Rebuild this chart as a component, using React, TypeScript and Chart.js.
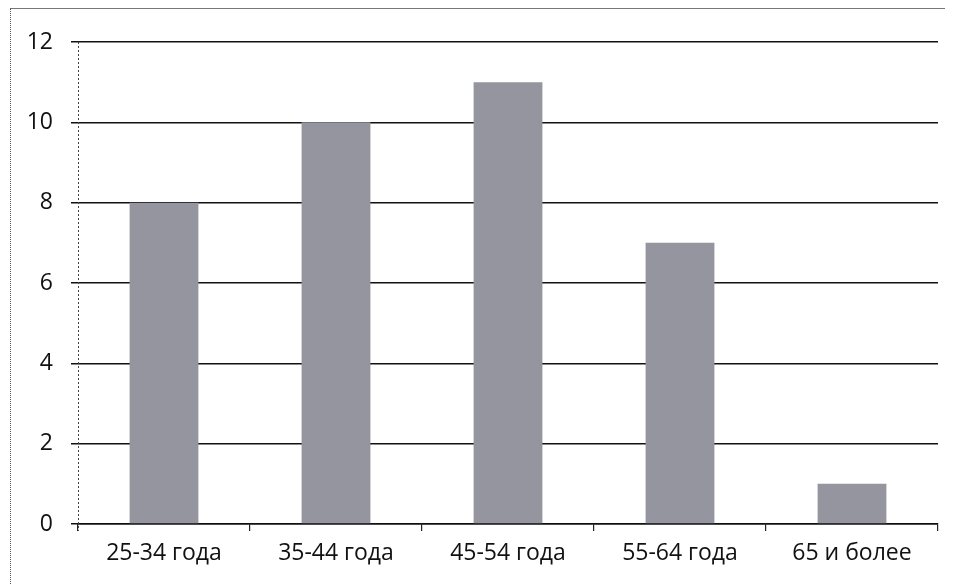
import React, { useEffect, useRef } from "react";
import { Chart, registerables } from "chart.js";

Chart.register(...registerables);

const categories = ["25-34 года", "35-44 года", "45-54 года", "55-64 года", "65 и более"];
const values = [8, 10, 11, 7, 1];
const yTicks = [0, 2, 4, 6, 8, 10, 12];

const dottedAxis = {
  id: "dottedAxis",
  afterDraw(chart: any) {
    const { ctx, chartArea } = chart;
    ctx.save();
    ctx.strokeStyle = "#444";
    ctx.lineWidth = 1;
    ctx.setLineDash([2, 2]);
    ctx.beginPath();
    ctx.moveTo(chartArea.left + 0.5, chartArea.top);
    ctx.lineTo(chartArea.left + 0.5, chartArea.bottom + 7);
    ctx.stroke();
    ctx.restore();
  },
};

export default function App() {
  const ref = useRef<HTMLCanvasElement | null>(null);

  useEffect(() => {
    if (!ref.current) return;
    const chart = new Chart(ref.current, {
      type: "bar",
      data: {
        labels: categories,
        datasets: [
          {
            data: values,
            backgroundColor: "#95959f",
            borderWidth: 0,
            barPercentage: 0.4,
            categoryPercentage: 1,
          },
        ],
      },
      plugins: [dottedAxis],
      options: {
        animation: false,
        responsive: false,
        maintainAspectRatio: false,
        layout: { padding: { left: 0, right: 19, top: 42, bottom: 0 } },
        plugins: { legend: { display: false }, tooltip: { enabled: false } },
        scales: {
          x: {
            offset: true,
            grid: {
              offset: true,
              drawOnChartArea: false,
              drawTicks: true,
              tickLength: 7,
              color: "#222",
              lineWidth: 1.2,
            },
            border: { display: true, color: "#111", width: 1.5 },
            ticks: {
              color: "#111",
              padding: 9,
              font: { family: "'Open Sans', sans-serif", size: 23 },
            },
            afterFit: (s: any) => {
              s.height = 60;
            },
          },
          y: {
            min: 0,
            max: 12,
            afterBuildTicks: (s: any) => {
              s.ticks = yTicks.map((v) => ({ value: v }));
            },
            grid: {
              color: "#111",
              lineWidth: 1.5,
              tickLength: 7,
            },
            border: { display: false },
            ticks: {
              color: "#111",
              padding: 18,
              font: { family: "'Open Sans', sans-serif", size: 23 },
            },
            afterFit: (s: any) => {
              s.width = 78;
            },
          },
        },
      },
    });
    return () => chart.destroy();
  }, []);

  return (
    <div style={{ position: "fixed", left: 0, top: 0, width: 957, height: 584, background: "#fff" }}>
      <div
        style={{
          position: "absolute",
          left: 10,
          top: 8,
          width: 935,
          height: 600,
          borderTop: "1px solid #777",
          borderLeft: "1px dotted #555",
          boxSizing: "border-box",
        }}
      />
      <canvas ref={ref} width={957} height={584} style={{ position: "absolute", left: 0, top: 0 }} />
    </div>
  );
}
